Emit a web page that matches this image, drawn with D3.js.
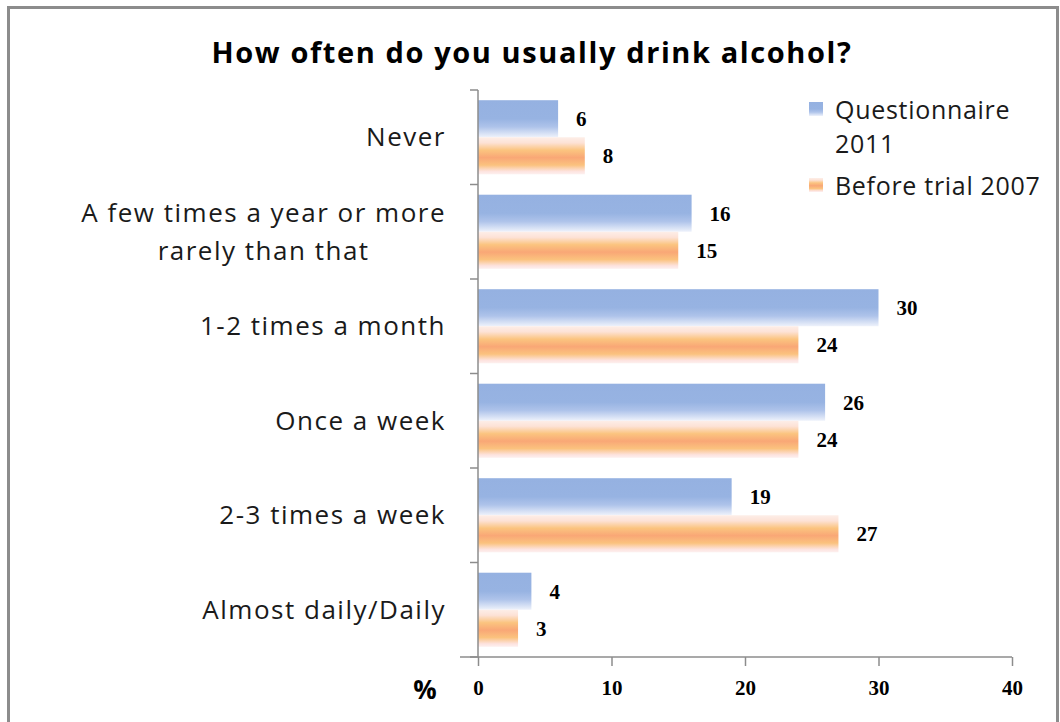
<!DOCTYPE html>
<html>
<head>
<meta charset="utf-8">
<script src="https://cdn.jsdelivr.net/npm/d3@7"></script>
<style>
  html, body { margin: 0; padding: 0; background: #fff; }
  svg { display: block; }
</style>
</head>
<body>
<svg id="chart" width="1060" height="722"></svg>
<script>
// Survey answers, in percent
const categories = [
  ["Never"],
  ["A few times a year or more", "rarely than that"],
  ["1-2 times a month"],
  ["Once a week"],
  ["2-3 times a week"],
  ["Almost daily/Daily"]
];
const questionnaire2011 = [6, 16, 30, 26, 19, 4];
const beforeTrial2007 = [8, 15, 24, 24, 27, 3];
const seriesNames = [["Questionnaire", "2011"], ["Before trial 2007"]];
const xTicks = [0, 10, 20, 30, 40];

const svg = d3.select("#chart");
const labelFont = "'Open Sans', sans-serif";
const numFont = "'Liberation Serif', serif";

// Frame around the chart area
svg.append("rect")
  .attr("x", 8.5).attr("y", 7.5)
  .attr("width", 1049).attr("height", 730)
  .attr("fill", "#fff").attr("stroke", "#8c8c8c").attr("stroke-width", 3);

// Gradients for the bars
const defs = svg.append("defs");
const blueGrad = defs.append("linearGradient").attr("id", "gBlue")
  .attr("x1", 0).attr("y1", 0).attr("x2", 0).attr("y2", 1);
[[0, "#95b1e1"], [0.5, "#97b3e2"], [0.72, "#aec3ea"], [1, "#eef2fb"]]
  .forEach(([o, c]) => blueGrad.append("stop").attr("offset", o).attr("stop-color", c));
const orangeGrad = defs.append("linearGradient").attr("id", "gOrange")
  .attr("x1", 0).attr("y1", 0).attr("x2", 0).attr("y2", 1);
[[0, "#fdeee8"], [0.15, "#fde2d6"], [0.35, "#fbc47f"], [0.55, "#f9a776"], [0.75, "#fbc27e"], [0.92, "#fde3df"], [1, "#fdf0ef"]]
  .forEach(([o, c]) => orangeGrad.append("stop").attr("offset", o).attr("stop-color", c));

const margin = { left: 478, right: 1012, top: 90, bottom: 657 };
const x = d3.scaleLinear().domain([0, 40]).range([margin.left, margin.right]);
const y = d3.scaleBand().domain(d3.range(categories.length))
  .range([margin.top, margin.bottom]).paddingInner(0.216).paddingOuter(0.108);
const sub = d3.scaleBand().domain([0, 1]).range([0, y.bandwidth()]);

// Title
svg.append("text")
  .attr("x", 532).attr("y", 63)
  .attr("text-anchor", "middle")
  .attr("font-family", labelFont)
  .attr("font-weight", "bold").attr("font-size", 29)
  .attr("letter-spacing", 1.6)
  .attr("fill", "#000")
  .text("How often do you usually drink alcohol?");

// Bars
const series = [
  { values: questionnaire2011, fill: "url(#gBlue)" },
  { values: beforeTrial2007, fill: "url(#gOrange)" }
];
series.forEach((s, si) => {
  svg.append("g").selectAll("rect").data(s.values).join("rect")
    .attr("x", x(0))
    .attr("y", (d, i) => y(i) + sub(si))
    .attr("width", d => x(d) - x(0))
    .attr("height", sub.bandwidth())
    .attr("fill", s.fill);
  svg.append("g").selectAll("text").data(s.values).join("text")
    .attr("x", d => x(d) + 18)
    .attr("y", (d, i) => y(i) + sub(si) + sub.bandwidth() / 2)
    .attr("dy", "0.35em")
    .attr("font-family", numFont).attr("font-weight", "bold").attr("font-size", 21)
    .attr("fill", "#000")
    .text(d => d);
});

// Y axis with ticks between categories
const yAxisG = svg.append("g").attr("stroke", "#8c8c8c").attr("stroke-width", 1.5);
yAxisG.append("line").attr("x1", x(0)).attr("x2", x(0)).attr("y1", margin.top).attr("y2", margin.bottom);
d3.range(categories.length + 1).forEach(i => {
  const yy = margin.top + i * (margin.bottom - margin.top) / categories.length;
  yAxisG.append("line").attr("x1", x(0) - 8).attr("x2", x(0)).attr("y1", yy).attr("y2", yy);
});

// X axis
const xAxis = d3.axisBottom(x).tickValues(xTicks).tickSize(9).tickSizeOuter(0).tickPadding(14);
const xg = svg.append("g").attr("transform", `translate(0,${margin.bottom})`).call(xAxis);
xg.select(".domain").attr("stroke", "#8c8c8c").attr("stroke-width", 1.5)
  .attr("d", `M${x(0) - 18},0H${x(40)}`);
xg.selectAll(".tick line").attr("stroke", "#8c8c8c").attr("stroke-width", 1.5);
xg.selectAll(".tick text")
  .attr("font-family", numFont).attr("font-weight", "bold").attr("font-size", 21)
  .attr("fill", "#000");

svg.append("text")
  .attr("x", 425).attr("y", 699)
  .attr("text-anchor", "middle")
  .attr("font-family", labelFont).attr("font-weight", "bold").attr("font-size", 26)
  .attr("fill", "#000").text("%");

// Category labels: block right-aligned, lines centred inside the block
const catG = svg.append("g");
const lineH = 38;
categories.forEach((lines, i) => {
  const cy = y(i) + y.bandwidth() / 2;
  const g = catG.append("g");
  const texts = lines.map((t, li) => g.append("text")
    .attr("y", cy + (li - (lines.length - 1) / 2) * lineH)
    .attr("dy", "0.35em")
    .attr("text-anchor", "middle")
    .attr("font-family", labelFont).attr("font-size", 26)
    .attr("letter-spacing", 1.5)
    .attr("fill", "#1a1a1a").text(t));
  const w = d3.max(texts, t => t.node().getComputedTextLength());
  texts.forEach(t => t.attr("x", 446 - w / 2));
});

// Legend
const legend = svg.append("g");
const legendFills = ["url(#gBlue)", "url(#gOrange)"];
const legendY = [[119, 153], [195]];
seriesNames.forEach((lines, si) => {
  legend.append("rect")
    .attr("x", 809).attr("y", legendY[si][0] - 17)
    .attr("width", 14).attr("height", 14)
    .attr("fill", legendFills[si]);
  lines.forEach((t, li) => legend.append("text")
    .attr("x", 835).attr("y", legendY[si][li])
    .attr("font-family", labelFont).attr("font-size", 25)
    .attr("letter-spacing", 0.7)
    .attr("fill", "#1a1a1a").text(t));
});
</script>
</body>
</html>
